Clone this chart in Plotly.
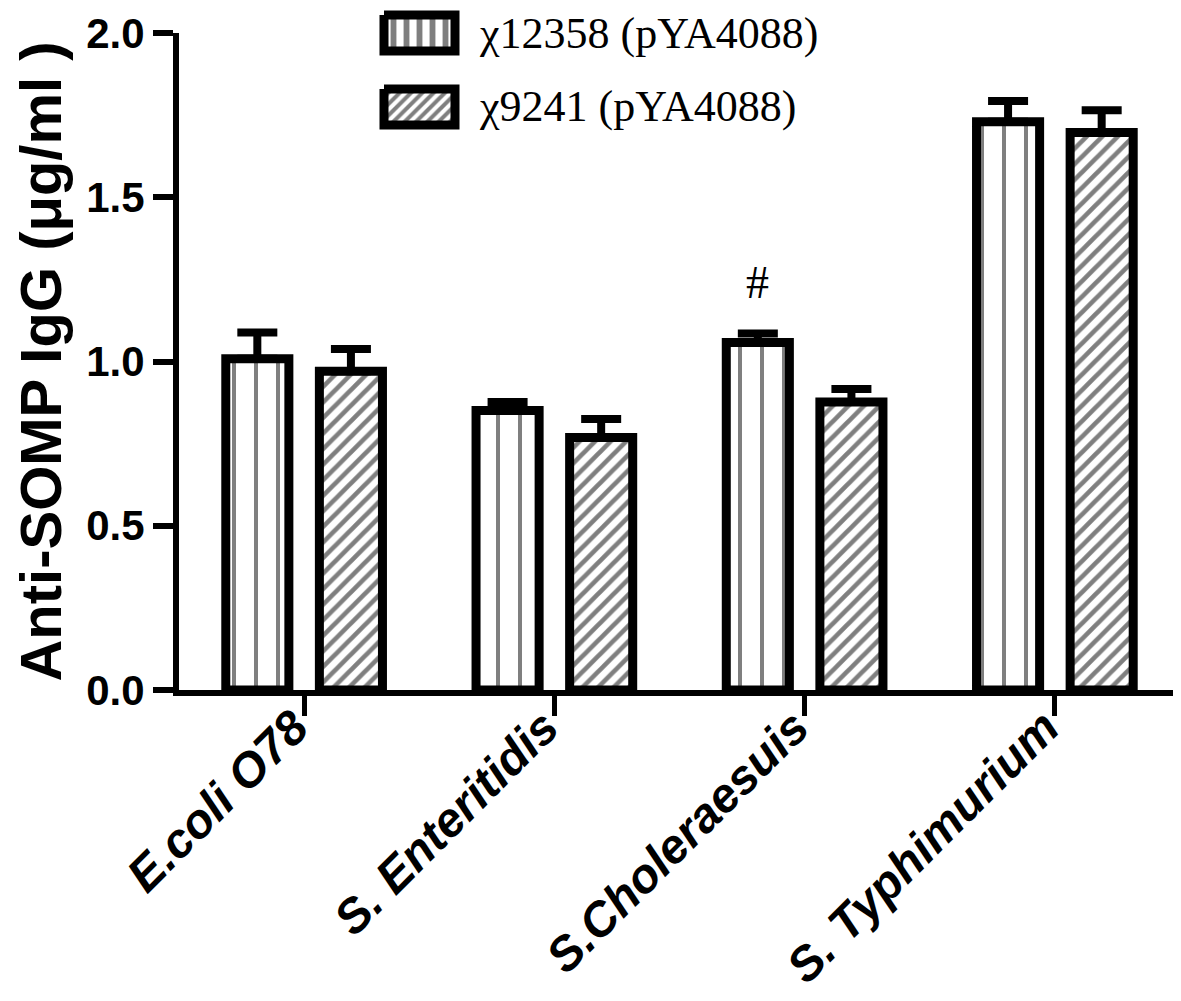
import plotly.graph_objects as go

categories = ["E.coli O78", "S. Enteritidis", "S.Choleraesuis", "S. Typhimurium"]
series_names = ["\u03c712358 (pYA4088)", "\u03c79241 (pYA4088)"]
mean_12358 = [1.008, 0.851, 1.058, 1.730]
err_12358 = [0.080, 0.026, 0.027, 0.063]
mean_9241 = [0.970, 0.769, 0.877, 1.697]
err_9241 = [0.068, 0.056, 0.039, 0.068]
y_ticks = [0.0, 0.5, 1.0, 1.5, 2.0]
marker_label = "#"
marker_category = "S.Choleraesuis"
marker_y = 1.24

# page geometry (pixels)
W, H = 1181, 1001
PLOT_L, PLOT_R, PLOT_TOP, PLOT_BOTTOM = 171, 1177, 25, 682

patterns = [dict(shape="|", size=22, solidity=0.18), dict(shape="/", size=11, solidity=0.42)]
legend_patterns = [dict(shape="|", size=13, solidity=0.45), dict(shape="/", size=8, solidity=0.5)]
legend_boxes = [(376, 447, 7, 43), (376, 447, 81, 117)]
legend_text_x = 470
legend_text_top = [0, 73]

tick_text = ["<i>%s</i>" % c for c in categories]

fig = go.Figure()
for name, means, errs, pat in [(series_names[0], mean_12358, err_12358, patterns[0]),
                               (series_names[1], mean_9241, err_9241, patterns[1])]:
    fig.add_trace(go.Bar(
        name=name, x=categories, y=means, showlegend=False,
        marker=dict(color="white", line=dict(color="black", width=9),
                    pattern=dict(fgcolor="black", bgcolor="white", **pat)),
        error_y=dict(type="data", array=errs, arrayminus=[0] * len(errs), symmetric=False,
                     color="black", thickness=8, width=20),
        xaxis="x", yaxis="y",
    ))

# custom legend (large patterned boxes) drawn on a pixel-scaled overlay axis
for name, (x0, x1, y0, y1), pat, ty in zip(series_names, legend_boxes, legend_patterns, legend_text_top):
    fig.add_trace(go.Scatter(
        x=[x0, x1, x1, x0, x0], y=[y0, y0, y1, y1, y0], mode="lines",
        fill="toself", fillcolor="white",
        fillpattern=dict(fgcolor="black", bgcolor="white", **pat),
        line=dict(color="black", width=9), showlegend=False, hoverinfo="skip",
        xaxis="x2", yaxis="y2",
    ))
    fig.add_annotation(x=legend_text_x, y=ty, xref="x2", yref="y2", text=name, showarrow=False,
                       xanchor="left", yanchor="top", borderpad=0,
                       font=dict(family="Liberation Serif", size=44, color="black"))

fig.add_annotation(x=categories.index(marker_category), y=marker_y, xref="x", yref="y",
                   text=marker_label, showarrow=False, xshift=-47,
                   font=dict(family="Liberation Serif", size=46, color="black"))

fig.update_layout(
    width=W, height=H,
    margin=dict(l=PLOT_L, r=W - PLOT_R, t=0, b=H - PLOT_BOTTOM, autoexpand=False),
    plot_bgcolor="rgba(0,0,0,0)", paper_bgcolor="white",
    barmode="group", bargap=0.252, bargroupgap=0.326,
    showlegend=False,
    font=dict(family="Liberation Sans", color="black"),
    xaxis=dict(
        type="category", range=[-0.5, 3.52], domain=[0, 1], anchor="y",
        tickmode="array", tickvals=categories, ticktext=tick_text,
        tickangle=-45, tickfont=dict(family="Liberation Sans", size=48, color="black", weight="bold"),
        ticklabelstandoff=-36, ticklabelshift=-10,
        showline=True, linecolor="black", linewidth=6,
        ticks="outside", ticklen=20, tickwidth=5, tickcolor="black",
        showgrid=False, zeroline=False,
    ),
    yaxis=dict(
        range=[0, 2], domain=[0, (PLOT_BOTTOM - PLOT_TOP) / PLOT_BOTTOM], anchor="x",
        tickmode="array", tickvals=y_ticks, ticktext=["%.1f" % v for v in y_ticks],
        tickfont=dict(family="Liberation Sans", size=42, color="black", weight="bold"),
        showline=True, linecolor="black", linewidth=6,
        ticks="outside", ticklen=20, tickwidth=6, tickcolor="black",
        showgrid=False, zeroline=False,
        title=dict(text="<b>Anti-SOMP IgG (\u03bcg/ml )</b>", standoff=30,
                   font=dict(family="Liberation Sans", size=58, color="black")),
    ),
    xaxis2=dict(range=[PLOT_L, PLOT_R], domain=[0, 1], anchor="y2", visible=False, fixedrange=True),
    yaxis2=dict(range=[PLOT_BOTTOM, 0], domain=[0, 1], anchor="x2", visible=False, fixedrange=True),
)

fig.write_html("out.html")
